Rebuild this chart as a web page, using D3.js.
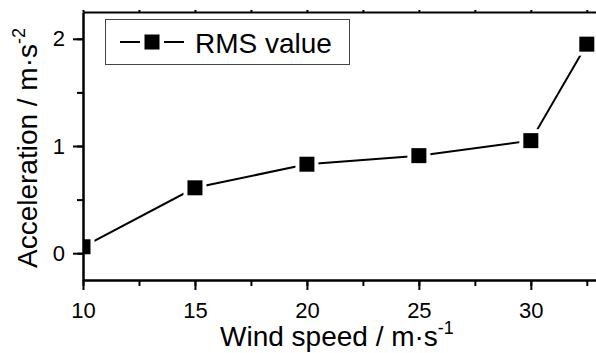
<!DOCTYPE html>
<html>
<head>
<meta charset="utf-8">
<script src="https://cdn.jsdelivr.net/npm/d3@7/dist/d3.min.js"></script>
<style>
  html, body { margin: 0; padding: 0; background: #fff; }
  svg { display: block; font-family: Arial, 'Liberation Sans', sans-serif; }
</style>
</head>
<body>
<svg id="chart" width="596" height="353"></svg>
<script>
'use strict';

/* ── Data ── */
const windSpeed = [10, 15, 20, 25, 30, 32.5];
const rmsValue = [0.06, 0.61, 0.83, 0.91, 1.05, 1.95];
const xTicks = [10, 15, 20, 25, 30];
const yTicks = [0, 1, 2];
const seriesName = 'RMS value';

/* ── Layout ── */
const L = 83, T = 12, R = 598, B = 280;
const svg = d3.select('#chart');

const x = d3.scaleLinear().domain([10, 33]).range([L, R]);
const y = d3.scaleLinear().domain([-0.25, 2.25]).range([B, T]);

svg.append('clipPath').attr('id', 'plot-clip')
  .append('rect').attr('x', L).attr('y', T).attr('width', R - L).attr('height', B - T);

const plot = svg.append('g').attr('clip-path', 'url(#plot-clip)');
const pts = windSpeed.map((v, i) => [v, rmsValue[i]]);

/* ── Line + markers (white halo gives the gap) ── */
plot.append('path')
  .datum(pts)
  .attr('fill', 'none')
  .attr('stroke', '#000')
  .attr('stroke-width', 2)
  .attr('d', d3.line().x(d => x(d[0])).y(d => y(d[1])));

const MS = 15, GAP = 4;
plot.selectAll('rect.halo').data(pts).join('rect')
  .attr('class', 'halo')
  .attr('x', d => x(d[0]) - MS / 2 - GAP).attr('y', d => y(d[1]) - MS / 2 - GAP)
  .attr('width', MS + 2 * GAP).attr('height', MS + 2 * GAP)
  .attr('fill', '#fff');
plot.selectAll('rect.mk').data(pts).join('rect')
  .attr('class', 'mk')
  .attr('x', d => x(d[0]) - MS / 2).attr('y', d => y(d[1]) - MS / 2)
  .attr('width', MS).attr('height', MS)
  .attr('fill', '#000');

/* ── Axes ── */
const minorX = d3.range(10, 33.01, 2.5);
const minorY = d3.range(0, 2.01, 0.5);
const fmt = d3.format('d');

function styleAxis(g) {
  g.selectAll('path.domain').attr('stroke', '#000').attr('stroke-width', 2);
  g.selectAll('.tick line').attr('stroke', '#000').attr('stroke-width', 2);
  g.selectAll('text').attr('font-size', 22).attr('fill', '#000')
    .attr('font-family', "Arial, 'Liberation Sans', sans-serif");
}

// bottom minor + major
svg.append('g').attr('transform', `translate(0,${B})`)
  .call(d3.axisBottom(x).tickValues(minorX).tickSize(6).tickFormat('').tickSizeOuter(0))
  .call(styleAxis);
svg.append('g').attr('transform', `translate(0,${B})`)
  .call(d3.axisBottom(x).tickValues(xTicks).tickSize(10).tickPadding(12).tickFormat(fmt).tickSizeOuter(0))
  .call(styleAxis);

// left minor + major
svg.append('g').attr('transform', `translate(${L},0)`)
  .call(d3.axisLeft(y).tickValues(minorY).tickSize(6).tickFormat('').tickSizeOuter(0))
  .call(styleAxis);
svg.append('g').attr('transform', `translate(${L},0)`)
  .call(d3.axisLeft(y).tickValues(yTicks).tickSize(10).tickPadding(8).tickFormat(fmt).tickSizeOuter(0))
  .call(styleAxis);

// top frame with tiny ticks
svg.append('g').attr('transform', `translate(0,${T})`)
  .call(d3.axisTop(x).tickValues(minorX).tickSize(2).tickFormat('').tickSizeOuter(0))
  .call(styleAxis);
// right frame (off the visible edge)
svg.append('g').attr('transform', `translate(${R},0)`)
  .call(d3.axisRight(y).tickValues([]).tickSizeOuter(0))
  .call(styleAxis);

/* ── Axis titles ── */
const xt = svg.append('text')
  .attr('x', 220).attr('y', 346)
  .attr('font-size', 28).attr('fill', '#000');
xt.append('tspan').text('Wind speed / m·s');
xt.append('tspan').attr('font-size', 18).attr('dy', -12).text('-1');

const yt = svg.append('text')
  .attr('transform', `translate(37,${(T + B) / 2 + 2}) rotate(-90)`)
  .attr('text-anchor', 'middle')
  .attr('font-size', 28).attr('fill', '#000');
yt.append('tspan').text('Acceleration / m·s');
yt.append('tspan').attr('font-size', 18).attr('dy', -12).text('-2');

/* ── Legend ── */
const lg = svg.append('g');
lg.append('rect')
  .attr('x', 105.5).attr('y', 19.5).attr('width', 244).attr('height', 45)
  .attr('fill', '#fff').attr('stroke', '#444').attr('stroke-width', 1);
lg.append('line').attr('x1', 120).attr('x2', 140).attr('y1', 42).attr('y2', 42)
  .attr('stroke', '#000').attr('stroke-width', 2);
lg.append('line').attr('x1', 164).attr('x2', 184).attr('y1', 42).attr('y2', 42)
  .attr('stroke', '#000').attr('stroke-width', 2);
lg.append('rect').attr('x', 152 - MS / 2).attr('y', 42 - MS / 2)
  .attr('width', MS).attr('height', MS).attr('fill', '#000');
lg.append('text').attr('x', 195).attr('y', 52.5)
  .attr('font-size', 28).attr('fill', '#000').text(seriesName);
</script>
</body>
</html>
